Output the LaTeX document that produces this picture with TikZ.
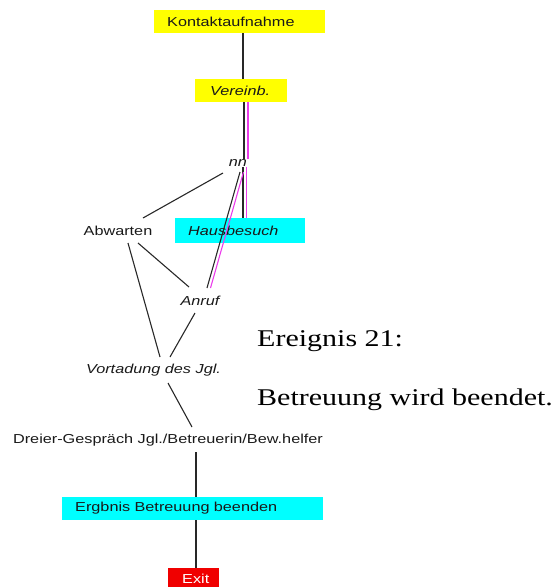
\documentclass[tikz,border=0pt]{standalone}
\usepackage{fontspec}
\setmainfont{Liberation Serif}[FakeStretch=1.25]
\newfontfamily\labelfont{Liberation Sans}[FakeStretch=1.25]
\definecolor{boxyellow}{RGB}{255,255,0}
\definecolor{boxcyan}{RGB}{0,255,255}
\definecolor{boxred}{RGB}{240,0,0}
\definecolor{linkpink}{RGB}{235,60,235}
\definecolor{linkgray}{RGB}{40,40,40}
\begin{document}
\begin{tikzpicture}[x=1pt,y=-1pt,
  lbl/.style={font=\labelfont\fontsize{13}{15}\selectfont, inner sep=0pt, text=black!90},
  itl/.style={font=\labelfont\fontsize{13}{15}\selectfont\itshape, inner sep=0pt, text=black!90},
  box/.style={rectangle, anchor=west, inner xsep=13pt, inner ysep=0pt,
              minimum height=23pt, align=left},
  link/.style={draw=linkgray, line width=1.1pt},
  pinklink/.style={draw=linkpink, line width=1.1pt},
  event/.style={font=\fontsize{24}{28}\selectfont, anchor=base west, inner sep=0pt}]
\useasboundingbox (0,0) rectangle (560,587);

% process steps
\node[box, lbl, inner xsep=13pt, fill=boxyellow, text width=145pt] (kontakt) at (154,21.5) {Kontaktaufnahme};
\node[box, itl, inner xsep=15pt, fill=boxyellow, text width=62pt] (vereinb) at (195,90.5) {Vereinb.};
\node[itl] (nn) at (238,163) {nn};
\node[lbl] (abwarten) at (118,231) {Abwarten};
\node[box, itl, inner xsep=13pt, fill=boxcyan, text width=104pt, minimum height=25pt] (hausbesuch) at (175,230.5) {Hausbesuch};
\node[itl] (anruf) at (200,301) {Anruf};
\node[itl] (vortadung) at (153.5,370) {Vortadung des Jgl.};
\node[lbl] (dreier) at (168,440) {Dreier-Gespräch Jgl./Betreuerin/Bew.helfer};
\node[box, lbl, inner xsep=13pt, fill=boxcyan, text width=235pt] (ergebnis) at (62,508.5) {Ergbnis Betreuung beenden};
\node[box, lbl, inner xsep=14pt, fill=boxred, text=white, text width=23pt, minimum height=22pt] (exit) at (168,579) {Exit};

% event caption
\node[event] (evtitle) at (257,346) {Ereignis 21:};
\node[event] (evtext) at (257,405) {Betreuung wird beendet.};

% x positions of the vertical links
\coordinate (trunkA) at (243,0);
\coordinate (trunkV) at (244,0);
\coordinate (trunkVp) at (248,0);
\coordinate (trunkH) at (243,0);
\coordinate (trunkHp) at (246.5,0);
\coordinate (trunkB) at (196,0);

% connectors
\draw[link] (kontakt.south -| trunkA) -- (vereinb.north -| trunkA);
\draw[link] (vereinb.south -| trunkV) -- (nn.north -| trunkV);
\draw[pinklink] (vereinb.south -| trunkVp) -- (nn.north -| trunkVp);
\draw[link] (nn.south -| trunkH) -- (hausbesuch.north -| trunkH);
\draw[pinklink] (nn.south -| trunkHp) -- (hausbesuch.north -| trunkHp);
\draw[link] ([shift={(2,9)}]nn.center) -- ([shift={(7,-13)}]anruf.center);
\draw[pinklink] ([shift={(5.5,9)}]nn.center) -- ([shift={(10.5,-13)}]anruf.center);
\draw[link] ([shift={(25,-13)}]abwarten.center) -- ([shift={(-15,10)}]nn.center);
\draw[link] ([shift={(20,12)}]abwarten.center) -- ([shift={(-11,-14)}]anruf.center);
\draw[link] ([shift={(10,12)}]abwarten.center) -- ([shift={(6.5,-13)}]vortadung.center);
\draw[link] ([shift={(-5,12)}]anruf.center) -- ([shift={(16.5,-13)}]vortadung.center);
\draw[link] ([shift={(14.5,13)}]vortadung.center) -- ([shift={(24,-13)}]dreier.center);
\draw[link] ([shift={(0,12)}]dreier.center -| trunkB) -- (ergebnis.north -| trunkB);
\draw[link] (ergebnis.south -| trunkB) -- (exit.north -| trunkB);
\end{tikzpicture}
\end{document}
